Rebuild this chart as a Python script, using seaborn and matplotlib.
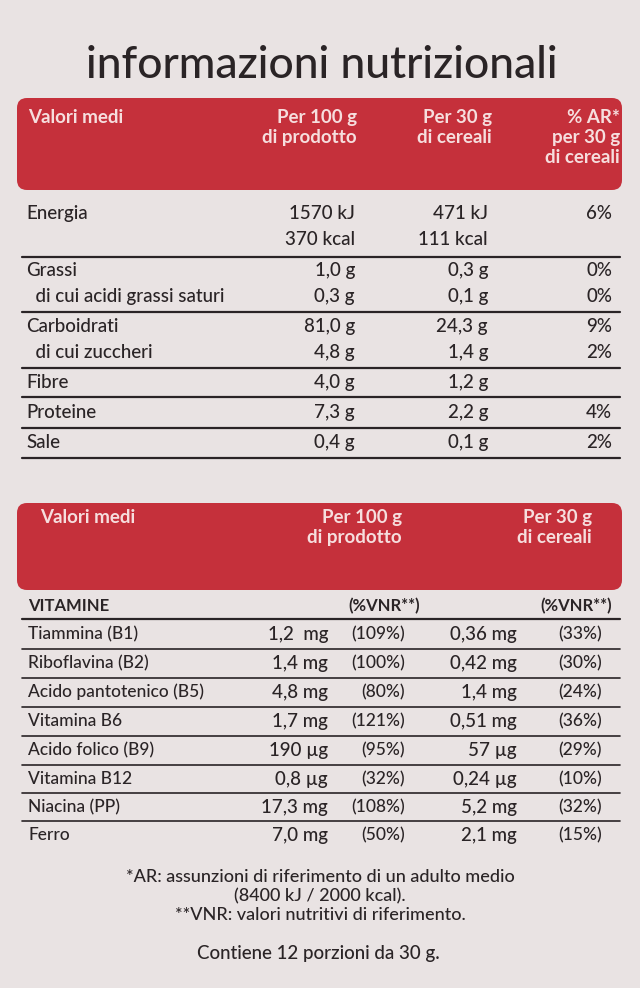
import matplotlib
matplotlib.use("Agg")
import matplotlib.pyplot as plt
import seaborn as sns
from matplotlib.patches import FancyBboxPatch

sns.set_theme(style="white")
plt.rcParams['font.family'] = ['Lato', 'DejaVu Sans']
plt.rcParams['font.weight'] = 'medium'

BG = "#e9e3e3"
RED = "#c5303b"
HDR = "#f6dede"
TXT = "#2a2426"

title = "informazioni nutrizionali"
head1 = ["Valori medi", "Per 100 g\ndi prodotto", "Per 30 g\ndi cereali", "% AR*\nper 30 g\ndi cereali"]
names1 = ["Energia", "", "Grassi", "  di cui acidi grassi saturi", "Carboidrati", "  di cui zuccheri",
          "Fibre", "Proteine", "Sale"]
per100 = ["1570 kJ", "370 kcal", "1,0 g", "0,3 g", "81,0 g", "4,8 g", "4,0 g", "7,3 g", "0,4 g"]
per30 = ["471 kJ", "111 kcal", "0,3 g", "0,1 g", "24,3 g", "1,4 g", "1,2 g", "2,2 g", "0,1 g"]
ar30 = ["6%", "", "0%", "0%", "9%", "2%", "", "4%", "2%"]
rows1_y = [213, 239, 270, 296, 326, 352, 382, 412, 442]
lines1_y = [257, 312, 368, 397, 428, 458]

head2 = ["Valori medi", "Per 100 g\ndi prodotto", "Per 30 g\ndi cereali"]
vit_names = ["Tiammina (B1)", "Riboflavina (B2)", "Acido pantotenico (B5)", "Vitamina B6",
             "Acido folico (B9)", "Vitamina B12", "Niacina (PP)", "Ferro"]
vit100 = ["1,2  mg", "1,4 mg", "4,8 mg", "1,7 mg", "190 µg", "0,8 µg", "17,3 mg", "7,0 mg"]
vnr100 = ["(109%)", "(100%)", "(80%)", "(121%)", "(95%)", "(32%)", "(108%)", "(50%)"]
vit30 = ["0,36 mg", "0,42 mg", "1,4 mg", "0,51 mg", "57 µg", "0,24 µg", "5,2 mg", "2,1 mg"]
vnr30 = ["(33%)", "(30%)", "(24%)", "(36%)", "(29%)", "(10%)", "(32%)", "(15%)"]
rows2_y = [634, 663, 692, 721, 750, 779, 807, 835]

notes = ["*AR: assunzioni di riferimento di un adulto medio", "(8400 kJ / 2000 kcal).",
         "**VNR: valori nutritivi di riferimento."]
final = "Contiene 12 porzioni da 30 g."

fig = plt.figure(figsize=(6.4, 9.88), dpi=100, facecolor=BG)
ax = fig.add_axes([0, 0, 1, 1])
ax.set_xlim(0, 640); ax.set_ylim(988, 0); ax.axis("off"); ax.set_facecolor(BG)

ax.text(322, 66, title, ha="center", va="center", fontsize=32, color=TXT)

fs = 13.5
ax.add_patch(FancyBboxPatch((17, 98), 605, 92, boxstyle="round,pad=0,rounding_size=10", fc=RED, ec="none"))
ax.text(28, 109, head1[0], ha="left", va="top", fontsize=fs, color=HDR, linespacing=1.2, fontweight="bold")
for x, h in zip([357, 492, 620], head1[1:]):
    ax.text(x, 109, h, ha="right", va="top", fontsize=fs, color=HDR, linespacing=1.2, fontweight="bold")
for y, n, a, b, c in zip(rows1_y, names1, per100, per30, ar30):
    ax.text(26, y, n, ha="left", va="center", fontsize=fs, color=TXT)
    ax.text(355, y, a, ha="right", va="center", fontsize=fs, color=TXT)
    ax.text(488, y, b, ha="right", va="center", fontsize=fs, color=TXT)
    ax.text(612, y, c, ha="right", va="center", fontsize=fs, color=TXT)
for y in lines1_y:
    ax.plot([22, 620], [y, y], color=TXT, lw=1.6)

ax.add_patch(FancyBboxPatch((17, 503), 605, 87, boxstyle="round,pad=0,rounding_size=10", fc=RED, ec="none"))
ax.text(40, 509, head2[0], ha="left", va="top", fontsize=fs, color=HDR, linespacing=1.2, fontweight="bold")
for x, h in zip([402, 592], head2[1:]):
    ax.text(x, 509, h, ha="right", va="top", fontsize=fs, color=HDR, linespacing=1.2, fontweight="bold")
ax.text(28, 606, "VITAMINE", ha="left", va="center", fontsize=fs - 1.5, color=TXT, fontweight="bold")
ax.text(420, 606, "(%VNR**)", ha="right", va="center", fontsize=fs - 1.5, color=TXT, fontweight="bold")
ax.text(612, 606, "(%VNR**)", ha="right", va="center", fontsize=fs - 1.5, color=TXT, fontweight="bold")
ax.plot([22, 620], [619, 619], color=TXT, lw=1.6)
for i, (y, n, a, b, c, d) in enumerate(zip(rows2_y, vit_names, vit100, vnr100, vit30, vnr30)):
    ax.text(28, y, n, ha="left", va="center", fontsize=fs - 1, color=TXT)
    ax.text(328, y, a, ha="right", va="center", fontsize=fs, color=TXT)
    ax.text(405, y, b, ha="right", va="center", fontsize=fs - 1, color=TXT)
    ax.text(517, y, c, ha="right", va="center", fontsize=fs, color=TXT)
    ax.text(602, y, d, ha="right", va="center", fontsize=fs - 1, color=TXT)
    if i < len(rows2_y) - 1:
        yy = (y + rows2_y[i + 1]) / 2
        ax.plot([22, 620], [yy, yy], color=TXT, lw=1.2)

for y, t in zip([877, 896, 915], notes):
    ax.text(320, y, t, ha="center", va="center", fontsize=13, color=TXT)
ax.text(318, 953, final, ha="center", va="center", fontsize=13.5, color=TXT)

fig.savefig("out.png", dpi=100, facecolor=BG)
